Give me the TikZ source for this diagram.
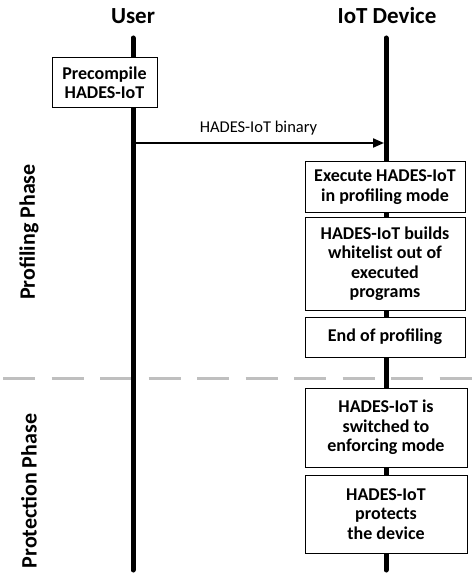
\documentclass[tikz,border=0pt]{standalone}
\usepackage{fontspec}
\setmainfont{Carlito}
\usetikzlibrary{arrows.meta}
\tikzset{
  stepbox/.style={draw=black, line width=1pt, fill=white, align=center, inner sep=0pt,
    font=\bfseries\fontsize{18}{19.5}\selectfont},
  lifeline/.style={line width=5pt, line cap=round},
  title/.style={font=\bfseries\fontsize{23}{26}\selectfont},
  phase/.style={font=\bfseries\fontsize{22}{26}\selectfont, rotate=90},
  msg/.style={line width=2pt, -{Triangle[length=11pt,width=9pt]}},
  divider/.style={line width=3pt, draw=gray!50, dash pattern=on 32pt off 16.5pt}
}
\begin{document}
\begin{tikzpicture}[x=1pt,y=-1pt]
\useasboundingbox (0,0) rectangle (474,577);
% divider
\coordinate (dl) at (3,378);
\coordinate (dr) at (474,378);
\draw[divider] (dl) -- (dr);
% titles
\node[title] (user) at (133,16) {User};
\node[title] (iot) at (387,16) {IoT Device};
% lifelines
\coordinate (ut) at (133,38);
\coordinate (ub) at (133,570);
\coordinate (it) at (386,38);
\coordinate (ib) at (386,570);
\draw[lifeline] (ut) -- (ub);
\draw[lifeline] (it) -- (ib);
% phases
\node[phase] (prof) at (29,232) {Profiling Phase};
\node[phase] (protp) at (29,491) {Protection Phase};
% boxes
\node[stepbox, minimum width=105pt, minimum height=50pt] (pre) at (104.5,83) {Precompile\\HADES-IoT};
\node[stepbox, minimum width=160pt, minimum height=50pt] (exec) at (385,187) {Execute HADES-IoT\\in profiling mode};
\node[stepbox, minimum width=160pt, minimum height=93pt] (white) at (385,263.5) {HADES-IoT builds\\whitelist out of\\executed\\programs};
\node[stepbox, minimum width=160pt, minimum height=40pt] (endp) at (385,337) {End of profiling};
\node[stepbox, minimum width=162pt, minimum height=79pt] (sw) at (386,427.5) {HADES-IoT is\\switched to\\enforcing mode};
\node[stepbox, minimum width=162pt, minimum height=78pt] (pr) at (386,514) {HADES-IoT\\protects\\the device};
% message
\coordinate (ms) at (133,143);
\coordinate (me) at (384,143);
\draw[msg] (ms) -- node[above=4pt, font=\fontsize{16.5}{19}\selectfont] (ml) {HADES-IoT binary} (me);
\end{tikzpicture}
\end{document}
